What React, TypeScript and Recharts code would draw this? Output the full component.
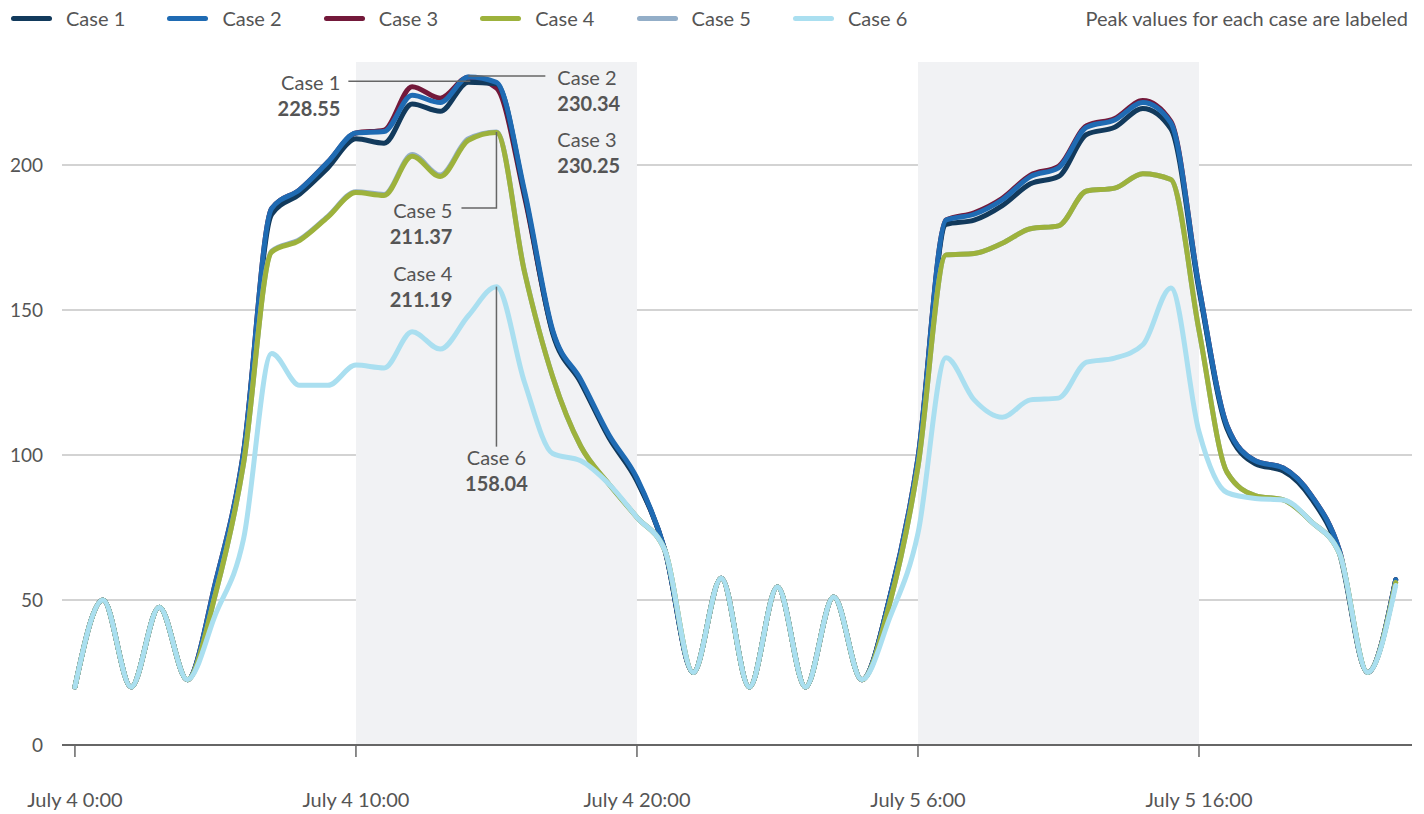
import { LineChart, Line, XAxis, YAxis, CartesianGrid, ReferenceArea, ReferenceDot } from 'recharts';

const hours = [0,1,2,3,4,5,6,7,8,9,10,11,12,13,14,15,16,17,18,19,20,21,22,23,24,25,26,27,28,29,30,31,32,33,34,35,36,37,38,39,40,41,42,43,44,45,46,47];

const case1 = [20,50,20,47.5,22.5,55,100,183,190,199,209,207.5,221,218.5,228.55,228,190,142,125,106,91,67,25,57.5,20,54.5,20,51,22.5,51,98,179.5,181,186,193.5,196,210.5,213,219.5,212.5,157,109,97,94.5,85,66,25,57];
const case2 = [20,50,20,47.5,22.5,56,101,185,191.5,201,211,211.5,224,221.5,230.34,228.5,191,143,126,107,92,67,25,57.5,20,54.5,20,51,22.5,51,99,181,183,188,196,199,213,215.5,221.5,214.5,158,110,98,95.5,86,67,25,57];
const case3 = [20,50,20,47.5,22.5,56,101,185,191.5,201,211,212,227,223,230.25,226.5,189,142.5,125.5,106.5,91.5,67,25,57.5,20,54.5,20,51,22.5,51,99,181,183.5,188.5,196.5,199.5,213.5,216,222.2,215,158,110,98,95.5,86,67,25,57];
const case4 = [20,50,20,47.5,22.5,52,97,170,174,182,190.5,189.5,203,196,208.5,211.19,163,127,103,90,78.5,67,25,57.5,20,54.5,20,51,22.5,49,96,169,169.5,173,178,179,191,192,197,195,143,94,86,84.5,77,66,25,56];
const case5 = [20,50,20,47.5,22.5,52,97,170.3,174.3,182.3,190.8,189.8,203.6,196.5,209,211.37,163.2,127,103,90,78.5,67,25,57.5,20,54.5,20,51,22.5,49,96,169,169.5,173,178,179,191,192,197,195,143,94,86,84.5,77,66,25,56];
const case6 = [20,50,20,47.5,22.5,45,71,135,124,124,131,130,142.5,136.5,148,158.04,125,100.5,98,90,78.5,67,25,57.5,20,54.5,20,51,22.5,44,73,133.5,119,113,119,119.6,132,133.4,138,157.6,108,87,85,84.5,77,66,25,55];

const xTicks = [0, 10, 20, 30, 40];
const xTickLabels = ['July 4 0:00', 'July 4 10:00', 'July 4 20:00', 'July 5 6:00', 'July 5 16:00'];
const yTicks = [0, 50, 100, 150, 200];
const gridValues = [50, 100, 150, 200];
const shadeRanges = [[10, 20], [30, 40]];

const seriesNames = ['Case 1', 'Case 2', 'Case 3', 'Case 4', 'Case 5', 'Case 6'];
const seriesValues = [case1, case2, case3, case4, case5, case6];
const colors = ['#123a5c', '#1f6bb3', '#73193a', '#9db23c', '#93aec8', '#aadff0'];
const drawOrder = [2, 0, 1, 4, 3, 5];

const data = hours.map((h, i) => {
  const row: Record<string, number> = { h };
  seriesNames.forEach((n, s) => { row[n] = seriesValues[s][i]; });
  return row;
});

const txt = '#555';
const shade = '#f1f2f4';

function PeakLabel({ x, y, anchor, name, value, halo }: { x: number; y: number; anchor: 'start' | 'end' | 'middle'; name: string; value: string; halo?: boolean }) {
  const st = halo ? { stroke: shade, strokeWidth: 16, strokeLinejoin: 'round' as const, paintOrder: 'stroke' as const } : undefined;
  return (
    <g>
      <text x={x} y={y} textAnchor={anchor} dominantBaseline="central" fontSize={20} fill={txt} style={st}>{name}</text>
      <text x={x} y={y + 26} textAnchor={anchor} dominantBaseline="central" fontSize={20} fontWeight={700} fill={txt} style={st}>{value}</text>
    </g>
  );
}

const lineStyle = { stroke: '#666', strokeWidth: 1.5 };

export default function App() {
  return (
    <div style={{ position: 'absolute', left: 0, top: 0, width: 1424, height: 814, background: '#fff', fontFamily: 'Lato, sans-serif' }}>
      <div style={{ position: 'absolute', left: 0, top: 0, width: 1424, height: 40 }}>
        {seriesNames.map((n, i) => (
          <div key={n} style={{ position: 'absolute', left: 11 + i * 156.4, top: 6, height: 24, display: 'flex', alignItems: 'center' }}>
            <div style={{ width: 41, height: 5, borderRadius: 3, background: colors[i] }} />
            <span style={{ marginLeft: 14, fontSize: 20, color: txt }}>{n}</span>
          </div>
        ))}
        <div style={{ position: 'absolute', right: 16, top: 6, height: 24, lineHeight: '24px', fontSize: 20, color: txt }}>
          Peak values for each case are labeled
        </div>
      </div>
      <LineChart width={1424} height={814} data={data} margin={{ top: 62, right: 12, bottom: 0, left: 0 }}>
        {shadeRanges.map(([a, b]) => (
          <ReferenceArea key={a} x1={a} x2={b} fill={shade} fillOpacity={1} stroke="none" />
        ))}
        <CartesianGrid vertical={false} horizontalValues={gridValues} stroke="#c4c4c4" strokeWidth={1.5} />
        <XAxis type="number" dataKey="h" domain={[-0.46, 47.58]} ticks={xTicks} allowDataOverflow
          tickFormatter={(v: number) => xTickLabels[xTicks.indexOf(v)]}
          height={69} tickSize={12} tickMargin={36}
          tick={{ fill: txt, fontSize: 20 }} stroke="#666" axisLine={{ stroke: '#666', strokeWidth: 2 }} tickLine={{ stroke: '#666', strokeWidth: 1.5 }} />
        <YAxis domain={[0, 235.5]} ticks={yTicks} allowDataOverflow width={62} axisLine={false} tickLine={false}
          tickSize={0} tickMargin={19} tick={{ fill: txt, fontSize: 19 }} />
        {drawOrder.map((s) => (
          <Line key={seriesNames[s]} type="monotone" dataKey={seriesNames[s]} stroke={colors[s]} strokeWidth={5}
            dot={false} activeDot={false} strokeLinecap="round" isAnimationActive={false} />
        ))}
        <ReferenceDot x={14} y={228.55} r={0} shape={(p: any) => (
          <g>
            <line x1={p.cx - 120} y1={p.cy - 1} x2={p.cx + 2} y2={p.cy - 1} {...lineStyle} />
            <PeakLabel x={p.cx - 128} y={p.cy} anchor="end" name="Case 1" value="228.55" />
          </g>
        )} />
        <ReferenceDot x={14} y={230.34} r={0} shape={(p: any) => (
          <g>
            <line x1={p.cx} y1={p.cy - 1} x2={p.cx + 77} y2={p.cy - 1} {...lineStyle} />
            <PeakLabel x={p.cx + 89} y={p.cy} anchor="start" name="Case 2" value="230.34" />
          </g>
        )} />
        <ReferenceDot x={14} y={230.25} r={0} shape={(p: any) => (
          <PeakLabel x={p.cx + 89} y={p.cy + 62} anchor="start" name="Case 3" value="230.25" halo />
        )} />
        <ReferenceDot x={15} y={211.37} r={0} shape={(p: any) => (
          <g>
            <polyline points={`${p.cx},${p.cy} ${p.cx},${p.cy + 76} ${p.cx - 35},${p.cy + 76}`} fill="none" {...lineStyle} />
            <PeakLabel x={p.cx - 44} y={p.cy + 78} anchor="end" name="Case 5" value="211.37" />
          </g>
        )} />
        <ReferenceDot x={15} y={211.19} r={0} shape={(p: any) => (
          <PeakLabel x={p.cx - 44} y={p.cy + 140} anchor="end" name="Case 4" value="211.19" halo />
        )} />
        <ReferenceDot x={15} y={158.04} r={0} shape={(p: any) => (
          <g>
            <line x1={p.cx} y1={p.cy} x2={p.cx} y2={p.cy + 160} {...lineStyle} />
            <PeakLabel x={p.cx} y={p.cy + 170} anchor="middle" name="Case 6" value="158.04" halo />
          </g>
        )} />
      </LineChart>
    </div>
  );
}
